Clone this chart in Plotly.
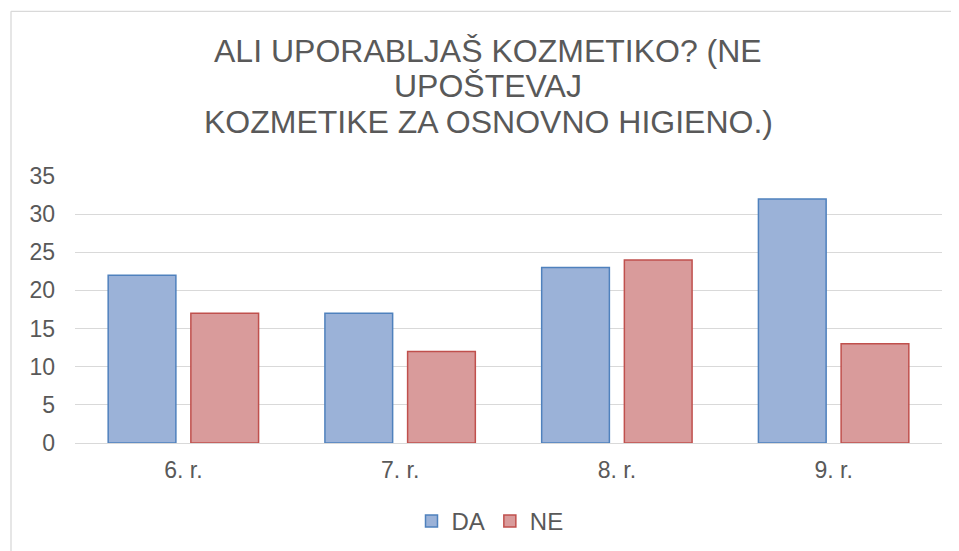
import plotly.graph_objects as go

categories = ["6. r.", "7. r.", "8. r.", "9. r."]
da_values = [22, 17, 23, 32]
ne_values = [17, 12, 24, 13]
series_names = ["DA", "NE"]
y_ticks = [0, 5, 10, 15, 20, 25, 30, 35]
title_lines = ["ALI UPORABLJAŠ KOZMETIKO? (NE", "UPOŠTEVAJ", "KOZMETIKE ZA OSNOVNO HIGIENO.)"]

FONT = "Liberation Sans, Arial, sans-serif"
TXT = "#595959"

# the page body adds an 8px offset; size the figure so it fits the window
OFF = 8
W, H = 959 - OFF, 551 - OFF
L = 75 - OFF
R = W - (942 - OFF)
T = 175.7 - OFF
B = H - (442.7 - OFF)
pw = W - L - R
ph = H - T - B


def px_x(x):  # reference-screen pixel -> paper x
    return (x - OFF - L) / pw


def px_y(y):  # reference-screen pixel -> paper y
    return (H - B - (y - OFF)) / ph


fig = go.Figure()
fig.add_trace(go.Bar(
    x=categories, y=da_values, name=series_names[0],
    marker=dict(color="#9BB2D8", line=dict(color="#4F81BD", width=1.5)),
))
fig.add_trace(go.Bar(
    x=categories, y=ne_values, name=series_names[1],
    marker=dict(color="#D99B9B", line=dict(color="#C0504D", width=1.5)),
))

title_y = [50.5, 86, 121.5]
annotations = [
    dict(text=line, xref="paper", yref="paper", x=px_x(488), y=px_y(yc),
         xanchor="center", yanchor="middle", showarrow=False,
         font=dict(family=FONT, size=32, color=TXT))
    for line, yc in zip(title_lines, title_y)
]

fig.update_layout(
    width=W, height=H,
    margin=dict(l=L, r=R, t=T, b=B, autoexpand=False),
    paper_bgcolor="white", plot_bgcolor="white",
    font=dict(family=FONT, color=TXT, size=23),
    barmode="group", bargap=0.237, bargroupgap=0.181,
    annotations=annotations,
    xaxis=dict(showgrid=False, showline=True, linecolor="#D9D9D9", linewidth=1.3,
               ticks="", tickfont=dict(size=23, color=TXT), ticklabelstandoff=6),
    yaxis=dict(range=[0, 35], tickvals=y_ticks, showgrid=True, gridcolor="#D9D9D9",
               gridwidth=1.3, zeroline=False, showline=False, ticks="",
               tickfont=dict(size=23, color=TXT), ticklabelstandoff=19),
    legend=dict(orientation="h", x=px_x(490), xanchor="center", y=px_y(521),
                yanchor="middle", font=dict(size=24, color=TXT),
                itemwidth=30, traceorder="normal", itemclick=False),
    showlegend=True,
    shapes=[
        dict(type="line", xref="paper", yref="paper", x0=px_x(11), x1=px_x(11),
             y0=px_y(560), y1=px_y(11), line=dict(color="#D9D9D9", width=1.3)),
        dict(type="line", xref="paper", yref="paper", x0=px_x(11), x1=px_x(970),
             y0=px_y(11), y1=px_y(11), line=dict(color="#D9D9D9", width=1.3)),
    ],
)

fig.write_html("out.html")
